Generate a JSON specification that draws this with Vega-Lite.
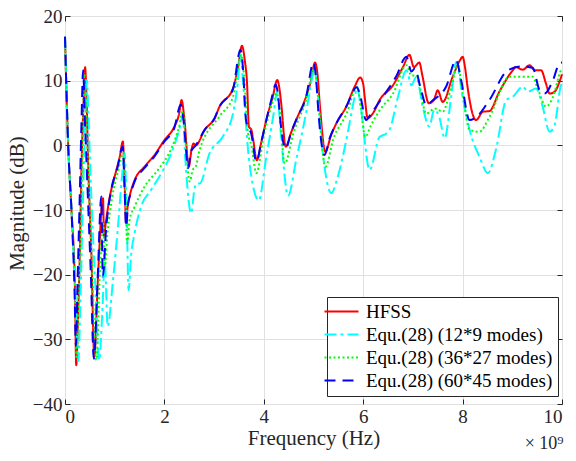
{
  "$schema": "https://vega.github.io/schema/vega-lite/v6.json",
  "width": 497,
  "height": 388,
  "autosize": "none",
  "padding": {"left": 65, "top": 16, "right": 14, "bottom": 57},
  "background": "white",
  "config": {
    "font": "'Liberation Serif', 'Times New Roman', serif",
    "view": {"stroke": "#262626", "strokeWidth": 1},
    "axis": {
      "labelFont": "'Liberation Serif', 'Times New Roman', serif", "labelFontSize": 19, "labelColor": "#262626",
      "titleFont": "'Liberation Serif', 'Times New Roman', serif", "titleFontSize": 21, "titleFontWeight": "normal", "titleColor": "#262626",
      "domain": false, "tickColor": "#262626", "tickSize": -5, "tickWidth": 1,
      "gridColor": "#e0e0e0", "gridWidth": 1
    },
    "legend": {
      "labelFont": "'Liberation Serif', 'Times New Roman', serif", "labelFontSize": 19, "labelColor": "#000000", "labelLimit": 400,
      "symbolType": "M-2,0H2", "symbolSize": 289, "symbolStrokeWidth": 2,
      "labelOffset": 15, "rowPadding": 3, "padding": 5,
      "fillColor": "white", "strokeColor": "#262626", "cornerRadius": 0
    }
  },
  "datasets": {
    "hfss": [
      {"f":0,"m":16.8},{"f":0.03,"m":8},{"f":0.064,"m":0},{"f":0.13,"m":-10},{"f":0.2,"m":-22},{"f":0.225,"m":-34},
      {"f":0.265,"m":-26},{"f":0.3,"m":-16},{"f":0.33,"m":-4},{"f":0.37,"m":6},{"f":0.405,"m":12.1},{"f":0.43,"m":8},
      {"f":0.47,"m":-3.8},{"f":0.53,"m":-16.7},{"f":0.59,"m":-32.7},{"f":0.66,"m":-21},{"f":0.765,"m":-8.2},{"f":0.785,"m":-14},
      {"f":0.82,"m":-12},{"f":0.9,"m":-8},{"f":1.0,"m":-4.8},{"f":1.1,"m":-1.8},{"f":1.165,"m":0.6},{"f":1.2,"m":-6},
      {"f":1.23,"m":-12.1},{"f":1.26,"m":-9.5},{"f":1.3,"m":-7.9},{"f":1.4,"m":-5.4},{"f":1.6,"m":-3.3},{"f":1.8,"m":-1.5},
      {"f":2.0,"m":0.8},{"f":2.2,"m":2.9},{"f":2.3,"m":5},{"f":2.345,"m":7.0},{"f":2.4,"m":4.3},{"f":2.49,"m":-3.3},
      {"f":2.55,"m":-0.5},{"f":2.59,"m":0.3},{"f":2.63,"m":0},{"f":2.81,"m":2.4},{"f":3.01,"m":4.2},{"f":3.11,"m":6.0},
      {"f":3.38,"m":8.8},{"f":3.48,"m":12},{"f":3.56,"m":15.4},{"f":3.62,"m":13},{"f":3.66,"m":10},{"f":3.7,"m":2.9},
      {"f":3.75,"m":2.4},{"f":3.78,"m":1.2},{"f":3.86,"m":-2.3},{"f":3.95,"m":0.5},{"f":4.05,"m":3.9},{"f":4.18,"m":7.5},
      {"f":4.27,"m":10.1},{"f":4.31,"m":9},{"f":4.35,"m":6.5},{"f":4.44,"m":-0.2},{"f":4.55,"m":2},{"f":4.65,"m":3.9},
      {"f":4.85,"m":7.5},{"f":4.95,"m":10},{"f":5.03,"m":12.8},{"f":5.08,"m":11},{"f":5.12,"m":7},{"f":5.24,"m":-1.0},
      {"f":5.35,"m":1.5},{"f":5.46,"m":3.4},{"f":5.66,"m":6.0},{"f":5.83,"m":9.1},{"f":5.94,"m":10.5},{"f":6.0,"m":9.5},
      {"f":6.03,"m":7.5},{"f":6.09,"m":4.2},{"f":6.2,"m":5},{"f":6.33,"m":7.0},{"f":6.6,"m":9.3},{"f":6.8,"m":12.1},
      {"f":6.93,"m":14.0},{"f":7.02,"m":12.1},{"f":7.13,"m":12.8},{"f":7.19,"m":10.8},{"f":7.32,"m":6.5},{"f":7.42,"m":7},
      {"f":7.5,"m":8.5},{"f":7.6,"m":6.7},{"f":7.8,"m":10.6},{"f":7.95,"m":13.2},{"f":8.0,"m":13.7},{"f":8.05,"m":12},
      {"f":8.1,"m":9},{"f":8.27,"m":3.9},{"f":8.41,"m":5.2},{"f":8.54,"m":5.3},{"f":8.74,"m":8.3},{"f":9.01,"m":11.6},
      {"f":9.07,"m":12.1},{"f":9.21,"m":11.7},{"f":9.35,"m":12.4},{"f":9.45,"m":11.6},{"f":9.58,"m":11.6},{"f":9.68,"m":9.5},
      {"f":9.75,"m":8.0},{"f":9.85,"m":8.3},{"f":10,"m":11}
    ],
    "m12": [
      {"f":0,"m":16.8},{"f":0.064,"m":0},{"f":0.13,"m":-10},{"f":0.2,"m":-21},{"f":0.27,"m":-33.4},{"f":0.31,"m":-24},
      {"f":0.35,"m":-12},{"f":0.4,"m":2},{"f":0.44,"m":10.1},{"f":0.47,"m":5},{"f":0.52,"m":-6},{"f":0.6,"m":-20},
      {"f":0.69,"m":-33.2},{"f":0.75,"m":-26},{"f":0.8,"m":-18},{"f":0.86,"m":-28},{"f":0.96,"m":-21.3},{"f":1.06,"m":-13.1},
      {"f":1.16,"m":-3.8},{"f":1.2,"m":-1.2},{"f":1.24,"m":-10},{"f":1.28,"m":-22.4},{"f":1.33,"m":-17},{"f":1.4,"m":-13.6},
      {"f":1.53,"m":-9.5},{"f":1.73,"m":-6.9},{"f":1.94,"m":-4.3},{"f":2.14,"m":-1.2},{"f":2.3,"m":2.5},{"f":2.37,"m":4.7},
      {"f":2.42,"m":-2},{"f":2.54,"m":-10.5},{"f":2.6,"m":-7},{"f":2.64,"m":-5.9},{"f":2.71,"m":-5.9},{"f":2.91,"m":-1.2},
      {"f":3.17,"m":1.3},{"f":3.38,"m":4.9},{"f":3.48,"m":10},{"f":3.53,"m":14.2},{"f":3.58,"m":10},{"f":3.7,"m":-2},
      {"f":3.9,"m":-8.5},{"f":4.04,"m":-2.3},{"f":4.2,"m":5},{"f":4.27,"m":8.3},{"f":4.33,"m":3},{"f":4.49,"m":-7.8},
      {"f":4.65,"m":-2.3},{"f":4.85,"m":5},{"f":4.99,"m":11.1},{"f":5.02,"m":12},{"f":5.08,"m":8},{"f":5.2,"m":-2},
      {"f":5.36,"m":-7.4},{"f":5.46,"m":-5.6},{"f":5.66,"m":0.8},{"f":5.83,"m":7.5},{"f":5.88,"m":9},{"f":5.95,"m":6},
      {"f":6.13,"m":-3.8},{"f":6.33,"m":1.3},{"f":6.46,"m":1.8},{"f":6.53,"m":2.4},{"f":6.7,"m":7.5},{"f":6.87,"m":11.6},
      {"f":6.97,"m":9.3},{"f":7.07,"m":10.6},{"f":7.2,"m":5.9},{"f":7.33,"m":2.9},{"f":7.43,"m":5.5},{"f":7.53,"m":4.4},
      {"f":7.64,"m":1.1},{"f":7.77,"m":7.5},{"f":7.87,"m":12.9},{"f":8.0,"m":7.5},{"f":8.14,"m":2.4},{"f":8.34,"m":-1.8},
      {"f":8.51,"m":-4.3},{"f":8.67,"m":-0.7},{"f":8.88,"m":7.0},{"f":9.01,"m":7.5},{"f":9.21,"m":9.1},{"f":9.31,"m":8.3},
      {"f":9.48,"m":8.8},{"f":9.61,"m":6.0},{"f":9.75,"m":2.1},{"f":9.85,"m":3.1},{"f":9.98,"m":9.3},{"f":10,"m":9.6}
    ],
    "m36": [
      {"f":0,"m":16.8},{"f":0.064,"m":0},{"f":0.13,"m":-10},{"f":0.2,"m":-22},{"f":0.235,"m":-33},{"f":0.27,"m":-24},
      {"f":0.31,"m":-14},{"f":0.35,"m":-2},{"f":0.39,"m":11},{"f":0.42,"m":6},{"f":0.47,"m":-5},{"f":0.54,"m":-18},
      {"f":0.63,"m":-33.2},{"f":0.7,"m":-20},{"f":0.77,"m":-12},{"f":0.8,"m":-19},{"f":0.85,"m":-14},{"f":0.95,"m":-8},
      {"f":1.06,"m":-4.2},{"f":1.18,"m":-1.2},{"f":1.22,"m":-8},{"f":1.25,"m":-15.1},{"f":1.3,"m":-11.5},{"f":1.4,"m":-9.5},
      {"f":1.6,"m":-6.4},{"f":1.87,"m":-3.8},{"f":2.14,"m":-0.5},{"f":2.3,"m":3},{"f":2.37,"m":5.3},{"f":2.42,"m":1},
      {"f":2.51,"m":-5.6},{"f":2.57,"m":-3.8},{"f":2.63,"m":-3.3},{"f":2.71,"m":-0.7},{"f":3.11,"m":4.5},{"f":3.38,"m":7.5},
      {"f":3.55,"m":14},{"f":3.6,"m":11},{"f":3.68,"m":2},{"f":3.75,"m":0},{"f":3.85,"m":-4.3},{"f":4.0,"m":1.5},
      {"f":4.15,"m":6},{"f":4.26,"m":8.1},{"f":4.31,"m":6},{"f":4.42,"m":-2.8},{"f":4.6,"m":2},{"f":4.85,"m":7},
      {"f":5.02,"m":12},{"f":5.07,"m":9},{"f":5.24,"m":-3.3},{"f":5.4,"m":1},{"f":5.66,"m":4.8},{"f":5.88,"m":9},
      {"f":5.95,"m":6},{"f":6.04,"m":1.3},{"f":6.15,"m":3},{"f":6.33,"m":5.4},{"f":6.6,"m":8},{"f":6.87,"m":12.4},
      {"f":6.97,"m":10.8},{"f":7.07,"m":10.8},{"f":7.27,"m":4.9},{"f":7.44,"m":5.7},{"f":7.6,"m":5.2},{"f":7.77,"m":9},
      {"f":7.9,"m":12.4},{"f":8.0,"m":8},{"f":8.14,"m":2.4},{"f":8.34,"m":2.1},{"f":8.54,"m":4.4},{"f":8.94,"m":10.6},
      {"f":9.21,"m":10.6},{"f":9.41,"m":10.6},{"f":9.51,"m":8.8},{"f":9.68,"m":6.0},{"f":9.82,"m":7.5},{"f":9.98,"m":11.6},
      {"f":10,"m":11.8}
    ],
    "m60": [
      {"f":0,"m":16.8},{"f":0.064,"m":0},{"f":0.13,"m":-10},{"f":0.19,"m":-22},{"f":0.22,"m":-31},{"f":0.25,"m":-22},
      {"f":0.29,"m":-10},{"f":0.33,"m":3},{"f":0.365,"m":11.6},{"f":0.4,"m":4},{"f":0.45,"m":-6},{"f":0.52,"m":-20},
      {"f":0.58,"m":-33},{"f":0.66,"m":-20},{"f":0.73,"m":-7.9},{"f":0.76,"m":-20.3},{"f":0.83,"m":-12.6},{"f":0.93,"m":-6.9},
      {"f":1.06,"m":-3.3},{"f":1.16,"m":-0.2},{"f":1.2,"m":-7},{"f":1.23,"m":-12.6},{"f":1.27,"m":-9},{"f":1.32,"m":-7.5},
      {"f":1.4,"m":-5.6},{"f":1.6,"m":-3.5},{"f":1.8,"m":-1.7},{"f":2.0,"m":0.6},{"f":2.2,"m":2.7},{"f":2.33,"m":6.3},
      {"f":2.39,"m":3.5},{"f":2.48,"m":-3.5},{"f":2.53,"m":-1},{"f":2.57,"m":-0.5},{"f":2.63,"m":0},{"f":2.81,"m":2.4},
      {"f":3.01,"m":4.2},{"f":3.11,"m":6},{"f":3.38,"m":8.7},{"f":3.53,"m":14.8},{"f":3.58,"m":12},{"f":3.64,"m":4},
      {"f":3.7,"m":2.5},{"f":3.74,"m":2},{"f":3.85,"m":-2.5},{"f":3.95,"m":0.5},{"f":4.05,"m":3.9},{"f":4.15,"m":7},
      {"f":4.24,"m":9.4},{"f":4.29,"m":7.5},{"f":4.33,"m":4},{"f":4.44,"m":-0.5},{"f":4.55,"m":2},{"f":4.65,"m":3.9},
      {"f":4.85,"m":7.5},{"f":5.0,"m":12.8},{"f":5.05,"m":10.5},{"f":5.1,"m":5},{"f":5.22,"m":-1.5},{"f":5.33,"m":1.2},
      {"f":5.46,"m":3.4},{"f":5.66,"m":6.0},{"f":5.87,"m":9},{"f":5.93,"m":8},{"f":6.06,"m":3.9},{"f":6.15,"m":4.8},
      {"f":6.33,"m":6.8},{"f":6.66,"m":10.6},{"f":6.87,"m":13.7},{"f":6.97,"m":11.4},{"f":7.04,"m":11.9},{"f":7.15,"m":9},
      {"f":7.27,"m":6.2},{"f":7.39,"m":6.9},{"f":7.67,"m":9.1},{"f":7.87,"m":13.2},{"f":7.97,"m":10.1},{"f":8.14,"m":3.9},
      {"f":8.28,"m":4.4},{"f":8.54,"m":7.0},{"f":8.91,"m":11.6},{"f":9.21,"m":12.2},{"f":9.41,"m":12},{"f":9.55,"m":8.5},
      {"f":9.65,"m":8.0},{"f":9.82,"m":10.1},{"f":9.95,"m":12.7},{"f":10,"m":12.8}
    ]
  },
  "resolve": {"axis": {"x": "independent", "y": "independent"}},
  "layer": [
    {
      "data": {"name": "hfss"},
      "mark": {"type": "line", "strokeWidth": 2, "strokeCap": "butt", "interpolate": "monotone"},
      "encoding": {
        "x": {"field": "f", "type": "quantitative",
              "scale": {"domain": [0, 10], "nice": false, "zero": false},
              "axis": {"orient": "bottom", "values": [0, 2, 4, 6, 8, 10], "title": "Frequency (Hz)", "labelPadding": 8, "titlePadding": 1}},
        "y": {"field": "m", "type": "quantitative",
              "scale": {"domain": [-40, 20], "nice": false, "zero": false},
              "axis": {"orient": "left", "values": [-40, -30, -20, -10, 0, 10, 20], "title": "Magnitude (dB)", "labelPadding": 8, "titlePadding": 5, "titleY": 187}},
        "color": {"datum": "HFSS", "type": "nominal",
                  "scale": {"domain": ["HFSS", "Equ.(28) (12*9 modes)", "Equ.(28) (36*27 modes)", "Equ.(28) (60*45 modes)"],
                            "range": ["#ff0000", "#00ffff", "#00ff00", "#0000ff"]},
                  "legend": {"title": null, "orient": "none", "legendX": 262, "legendY": 281}},
        "strokeDash": {"datum": "HFSS", "type": "nominal",
                       "scale": {"domain": ["HFSS", "Equ.(28) (12*9 modes)", "Equ.(28) (36*27 modes)", "Equ.(28) (60*45 modes)"],
                                 "range": [[1, 0], [12, 4, 3, 4], [2, 2.5], [11, 7]]},
                       "legend": {"title": null, "orient": "none", "legendX": 262, "legendY": 281}}
      }
    },
    {
      "data": {"name": "m12"},
      "mark": {"type": "line", "strokeWidth": 2, "strokeCap": "butt", "interpolate": "monotone"},
      "encoding": {
        "x": {"field": "f", "type": "quantitative",
              "axis": {"orient": "top", "values": [0, 2, 4, 6, 8, 10], "labels": false, "grid": false, "title": null}},
        "y": {"field": "m", "type": "quantitative",
              "axis": {"orient": "right", "values": [-40, -30, -20, -10, 0, 10, 20], "labels": false, "grid": false, "title": null}},
        "color": {"datum": "Equ.(28) (12*9 modes)", "type": "nominal"},
        "strokeDash": {"datum": "Equ.(28) (12*9 modes)", "type": "nominal"}
      }
    },
    {
      "data": {"name": "m36"},
      "mark": {"type": "line", "strokeWidth": 2, "strokeCap": "butt", "interpolate": "monotone"},
      "encoding": {
        "x": {"field": "f", "type": "quantitative", "axis": null},
        "y": {"field": "m", "type": "quantitative", "axis": null},
        "color": {"datum": "Equ.(28) (36*27 modes)", "type": "nominal"},
        "strokeDash": {"datum": "Equ.(28) (36*27 modes)", "type": "nominal"}
      }
    },
    {
      "data": {"name": "m60"},
      "mark": {"type": "line", "strokeWidth": 2, "strokeCap": "butt", "interpolate": "monotone"},
      "encoding": {
        "x": {"field": "f", "type": "quantitative", "axis": null},
        "y": {"field": "m", "type": "quantitative", "axis": null},
        "color": {"datum": "Equ.(28) (60*45 modes)", "type": "nominal"},
        "strokeDash": {"datum": "Equ.(28) (60*45 modes)", "type": "nominal"}
      }
    },
    {
      "data": {"values": [{"f": 9.64, "m": -46.2, "t": "× 10⁹"}]},
      "mark": {"type": "text", "fontSize": 18, "font": "'Liberation Serif', 'Times New Roman', serif", "color": "#262626", "align": "center", "baseline": "middle"},
      "encoding": {
        "x": {"field": "f", "type": "quantitative", "axis": null},
        "y": {"field": "m", "type": "quantitative", "axis": null},
        "text": {"field": "t"}
      }
    }
  ]
}
